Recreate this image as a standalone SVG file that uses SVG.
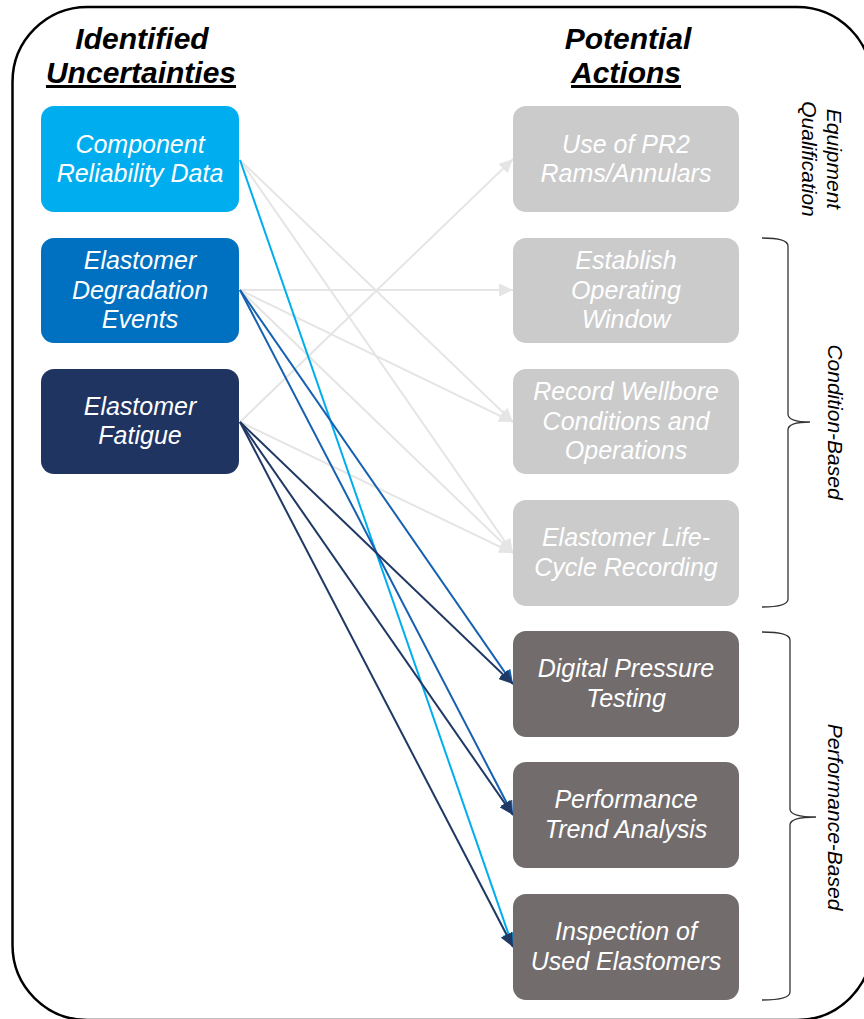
<svg xmlns="http://www.w3.org/2000/svg" width="864" height="1019" viewBox="0 0 864 1019">
<style>
.hdr{font-family:"Liberation Sans",Arial,sans-serif;font-size:30px;font-weight:bold;font-style:italic;fill:#000;text-anchor:middle}
.nt{font-family:"Liberation Sans",Arial,sans-serif;font-size:25px;font-style:italic;fill:#fff;text-anchor:middle}
.side{font-family:"Liberation Sans",Arial,sans-serif;font-size:21px;font-style:italic;fill:#000;text-anchor:middle}
.gl{stroke:#e5e5e5;stroke-width:2;fill:none;marker-end:url(#ag)}
.lb{stroke:#00aeef;stroke-width:2;fill:none;marker-end:url(#alb)}
.bl{stroke:#1560b0;stroke-width:2;fill:none;marker-end:url(#abl)}
.nv{stroke:#1f3864;stroke-width:2;fill:none;marker-end:url(#anv)}
.br{stroke:#333;stroke-width:1.3;fill:none}
</style>
<defs>
<marker id="ag" markerUnits="userSpaceOnUse" markerWidth="15" markerHeight="13" refX="14" refY="6.5" orient="auto"><path d="M0,0 L14,6.5 L0,13 z" fill="#e5e5e5"/></marker>
<marker id="alb" markerUnits="userSpaceOnUse" markerWidth="15" markerHeight="13" refX="14" refY="6.5" orient="auto"><path d="M0,0 L14,6.5 L0,13 z" fill="#00aeef"/></marker>
<marker id="abl" markerUnits="userSpaceOnUse" markerWidth="15" markerHeight="13" refX="14" refY="6.5" orient="auto"><path d="M0,0 L14,6.5 L0,13 z" fill="#1560b0"/></marker>
<marker id="anv" markerUnits="userSpaceOnUse" markerWidth="15" markerHeight="13" refX="14" refY="6.5" orient="auto"><path d="M0,0 L14,6.5 L0,13 z" fill="#1f3864"/></marker>
</defs>
<rect x="0" y="0" width="864" height="1019" fill="#fff"/>
<rect id="frame" x="12.5" y="7" width="859.5" height="1013" rx="75" ry="75" fill="none" stroke="#000" stroke-width="2.5"/>

<g id="headers">
<text class="hdr" x="142" y="49">Identified</text>
<text class="hdr" x="141" y="83" text-decoration="underline">Uncertainties</text>
<text class="hdr" x="628" y="49">Potential</text>
<text class="hdr" x="626" y="83" text-decoration="underline">Actions</text>
</g>

<g id="connectors">
<line class="gl" x1="240" y1="160" x2="513" y2="422"/>
<line class="gl" x1="240" y1="160" x2="513" y2="553"/>
<line class="gl" x1="240" y1="290" x2="513" y2="290"/>
<line class="gl" x1="240" y1="290" x2="513" y2="422"/>
<line class="gl" x1="240" y1="290" x2="513" y2="553"/>
<line class="gl" x1="240" y1="422" x2="513" y2="159"/>
<line class="gl" x1="240" y1="422" x2="513" y2="553"/>
<line class="lb" x1="240" y1="160" x2="513" y2="947"/>
<line class="bl" x1="240" y1="290" x2="513" y2="684"/>
<line class="bl" x1="240" y1="290" x2="513" y2="815"/>
<line class="nv" x1="240" y1="422" x2="513" y2="684"/>
<line class="nv" x1="240" y1="422" x2="513" y2="815"/>
<line class="nv" x1="240" y1="422" x2="513" y2="947"/>
</g>

<g id="n-component">
<rect x="41" y="106" width="198" height="106" rx="13" fill="#00aeef"/>
<text class="nt" x="140" y="153">Component</text>
<text class="nt" x="140" y="182">Reliability Data</text>
</g>
<g id="n-degradation">
<rect x="41" y="238" width="198" height="105" rx="13" fill="#0070c0"/>
<text class="nt" x="140" y="269">Elastomer</text>
<text class="nt" x="140" y="299">Degradation</text>
<text class="nt" x="140" y="328">Events</text>
</g>
<g id="n-fatigue">
<rect x="41" y="369" width="198" height="105" rx="13" fill="#1f3461"/>
<text class="nt" x="140" y="415">Elastomer</text>
<text class="nt" x="140" y="444">Fatigue</text>
</g>

<g id="a-pr2">
<rect x="513" y="106" width="226" height="106" rx="13" fill="#cbcbcb"/>
<text class="nt" x="626" y="153">Use of PR2</text>
<text class="nt" x="626" y="182">Rams/Annulars</text>
</g>
<g id="a-window">
<rect x="513" y="238" width="226" height="105" rx="13" fill="#cbcbcb"/>
<text class="nt" x="626" y="269">Establish</text>
<text class="nt" x="626" y="299">Operating</text>
<text class="nt" x="626" y="328">Window</text>
</g>
<g id="a-record">
<rect x="513" y="369" width="226" height="105" rx="13" fill="#cbcbcb"/>
<text class="nt" x="626" y="400">Record Wellbore</text>
<text class="nt" x="626" y="430">Conditions and</text>
<text class="nt" x="626" y="459">Operations</text>
</g>
<g id="a-lifecycle">
<rect x="513" y="500" width="226" height="106" rx="13" fill="#cbcbcb"/>
<text class="nt" x="626" y="546">Elastomer Life-</text>
<text class="nt" x="626" y="576">Cycle Recording</text>
</g>
<g id="a-digital">
<rect x="513" y="631" width="226" height="106" rx="13" fill="#726c6c"/>
<text class="nt" x="626" y="677">Digital Pressure</text>
<text class="nt" x="626" y="707">Testing</text>
</g>
<g id="a-trend">
<rect x="513" y="762" width="226" height="106" rx="13" fill="#726c6c"/>
<text class="nt" x="626" y="808">Performance</text>
<text class="nt" x="626" y="838">Trend Analysis</text>
</g>
<g id="a-inspection">
<rect x="513" y="894" width="226" height="106" rx="13" fill="#726c6c"/>
<text class="nt" x="626" y="940">Inspection of</text>
<text class="nt" x="626" y="970">Used Elastomers</text>
</g>

<g id="g-equipment">
<text class="side" transform="translate(827,159) rotate(90)" x="0" y="0">Equipment</text>
<text class="side" transform="translate(802,159) rotate(90)" x="0" y="0">Qualification</text>
</g>
<g id="g-condition">
<path class="br" d="M762,238 Q788,238 788,246 L788,414 Q788,422 810,422 Q788,422 788,430 L788,599 Q788,607 762,607"/>
<text class="side" transform="translate(828,422) rotate(90)" x="0" y="0">Condition-Based</text>
</g>
<g id="g-performance">
<path class="br" d="M762,632 Q790,632 790,640 L790,809 Q790,817 816,817 Q790,817 790,825 L790,992 Q790,1000 762,1000"/>
<text class="side" transform="translate(828,817) rotate(90)" x="0" y="0">Performance-Based</text>
</g>
</svg>
